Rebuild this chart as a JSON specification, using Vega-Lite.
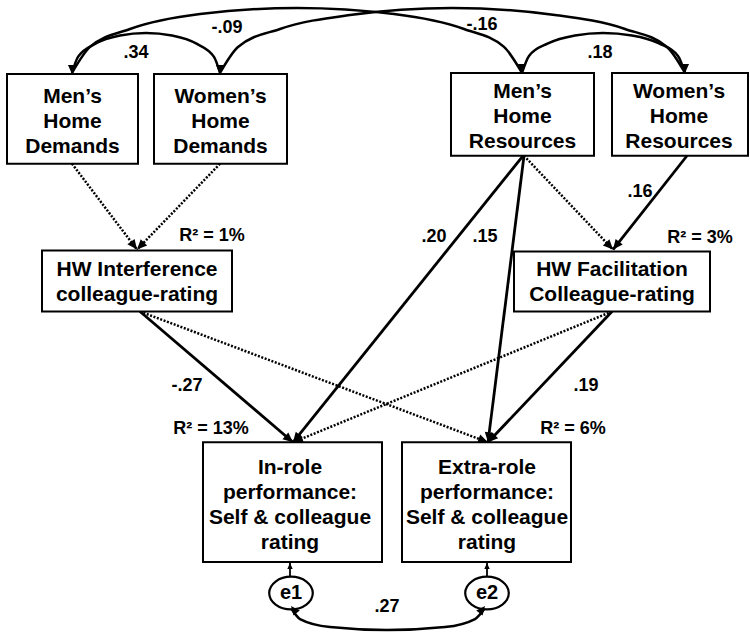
{
  "$schema": "https://vega.github.io/schema/vega-lite/v6.json",
  "width": 750,
  "height": 635,
  "padding": 0,
  "autosize": {"type": "fit", "contains": "padding"},
  "background": "white",
  "config": {"view": {"stroke": null}, "text": {"lineBreak": "\n"}},
  "datasets": {
    "boxes": [
      {"node": "MHD", "x1": 7, "x2": 138, "y1": 74, "y2": 164, "label": "Men’s\nHome\nDemands", "tx": 72.5, "ty": 97},
      {"node": "WHD", "x1": 154, "x2": 287, "y1": 74, "y2": 164, "label": "Women’s\nHome\nDemands", "tx": 220.5, "ty": 97},
      {"node": "MHR", "x1": 451, "x2": 594, "y1": 73, "y2": 156, "label": "Men’s\nHome\nResources", "tx": 522.5, "ty": 92},
      {"node": "WHR", "x1": 612, "x2": 748, "y1": 73, "y2": 156, "label": "Women’s\nHome\nResources", "tx": 679, "ty": 92},
      {"node": "HWI", "x1": 42, "x2": 232, "y1": 251, "y2": 312, "label": "HW Interference\ncolleague-rating", "tx": 137, "ty": 270},
      {"node": "HWF", "x1": 514, "x2": 710, "y1": 252, "y2": 312, "label": "HW Facilitation\nColleague-rating", "tx": 612, "ty": 270},
      {"node": "IR", "x1": 203, "x2": 382, "y1": 443, "y2": 563, "label": "In-role\nperformance:\nSelf & colleague\nrating", "tx": 290, "ty": 469},
      {"node": "ER", "x1": 402, "x2": 571, "y1": 443, "y2": 563, "label": "Extra-role\nperformance:\nSelf & colleague\nrating", "tx": 487, "ty": 469}
    ],
    "edges": [
      {"kind": "solid", "x1": 523, "y1": 156, "x2": 293, "y2": 443},
      {"kind": "solid", "x1": 524, "y1": 156, "x2": 488, "y2": 443},
      {"kind": "solid", "x1": 687, "y1": 156, "x2": 613, "y2": 250},
      {"kind": "solid", "x1": 140, "y1": 312, "x2": 293, "y2": 443},
      {"kind": "solid", "x1": 612, "y1": 312, "x2": 488, "y2": 443},
      {"kind": "dotted", "x1": 72, "y1": 164, "x2": 137, "y2": 250},
      {"kind": "dotted", "x1": 220, "y1": 164, "x2": 137, "y2": 250},
      {"kind": "dotted", "x1": 524, "y1": 156, "x2": 613, "y2": 250},
      {"kind": "dotted", "x1": 140, "y1": 312, "x2": 488, "y2": 443},
      {"kind": "dotted", "x1": 612, "y1": 312, "x2": 293, "y2": 443},
      {"kind": "thin", "x1": 290, "y1": 583, "x2": 290, "y2": 564},
      {"kind": "thin", "x1": 487, "y1": 583, "x2": 487, "y2": 564}
    ],
    "arcs": [
      {"arc": "A", "i": 0, "x": 72, "y": 73}, {"arc": "A", "i": 1, "x": 90, "y": 47}, {"arc": "A", "i": 2, "x": 130, "y": 29}, {"arc": "A", "i": 3, "x": 200, "y": 14}, {"arc": "A", "i": 4, "x": 297, "y": 8}, {"arc": "A", "i": 5, "x": 394, "y": 14}, {"arc": "A", "i": 6, "x": 464, "y": 29}, {"arc": "A", "i": 7, "x": 504, "y": 47}, {"arc": "A", "i": 8, "x": 522, "y": 73},
      {"arc": "B", "i": 0, "x": 220, "y": 73}, {"arc": "B", "i": 1, "x": 238, "y": 47}, {"arc": "B", "i": 2, "x": 280, "y": 29}, {"arc": "B", "i": 3, "x": 350, "y": 15}, {"arc": "B", "i": 4, "x": 452, "y": 8}, {"arc": "B", "i": 5, "x": 555, "y": 15}, {"arc": "B", "i": 6, "x": 625, "y": 29}, {"arc": "B", "i": 7, "x": 667, "y": 47}, {"arc": "B", "i": 8, "x": 685, "y": 73},
      {"arc": "C", "i": 0, "x": 72, "y": 73}, {"arc": "C", "i": 1, "x": 78, "y": 57}, {"arc": "C", "i": 2, "x": 95, "y": 44}, {"arc": "C", "i": 3, "x": 120, "y": 35.5}, {"arc": "C", "i": 4, "x": 146, "y": 33}, {"arc": "C", "i": 5, "x": 172, "y": 35.5}, {"arc": "C", "i": 6, "x": 197, "y": 44}, {"arc": "C", "i": 7, "x": 214, "y": 57}, {"arc": "C", "i": 8, "x": 220, "y": 73},
      {"arc": "D", "i": 0, "x": 522, "y": 73}, {"arc": "D", "i": 1, "x": 529, "y": 56}, {"arc": "D", "i": 2, "x": 548, "y": 43.5}, {"arc": "D", "i": 3, "x": 575, "y": 35.5}, {"arc": "D", "i": 4, "x": 603, "y": 33}, {"arc": "D", "i": 5, "x": 632, "y": 35.5}, {"arc": "D", "i": 6, "x": 659, "y": 43.5}, {"arc": "D", "i": 7, "x": 678, "y": 56}, {"arc": "D", "i": 8, "x": 685, "y": 73},
      {"arc": "E", "i": 0, "x": 291, "y": 609}, {"arc": "E", "i": 1, "x": 300, "y": 620}, {"arc": "E", "i": 2, "x": 330, "y": 628}, {"arc": "E", "i": 3, "x": 387, "y": 631}, {"arc": "E", "i": 4, "x": 445, "y": 628}, {"arc": "E", "i": 5, "x": 475, "y": 620}, {"arc": "E", "i": 6, "x": 485, "y": 609}
    ],
    "heads": [
      {"x": 72, "y": 74, "fx": 72, "fy": 60},
      {"x": 220, "y": 74, "fx": 220, "fy": 60},
      {"x": 522, "y": 73, "fx": 522, "fy": 59},
      {"x": 685, "y": 73, "fx": 685, "fy": 59},
      {"x": 291, "y": 607, "fx": 299, "fy": 617},
      {"x": 485, "y": 607, "fx": 477, "fy": 617}
    ],
    "errors": [
      {"label": "e1", "x": 291, "y": 594},
      {"label": "e2", "x": 487, "y": 594}
    ],
    "labels": [
      {"text": ".34", "x": 136, "y": 53},
      {"text": "-.09", "x": 227, "y": 28},
      {"text": "-.16", "x": 482, "y": 25},
      {"text": ".18", "x": 600, "y": 53},
      {"text": "R² = 1%", "x": 212, "y": 236},
      {"text": "R² = 3%", "x": 700, "y": 238},
      {"text": ".16", "x": 640, "y": 192},
      {"text": ".20", "x": 434, "y": 237},
      {"text": ".15", "x": 485, "y": 237},
      {"text": "-.27", "x": 187, "y": 387},
      {"text": ".19", "x": 586, "y": 387},
      {"text": "R² = 13%", "x": 211, "y": 430},
      {"text": "R² = 6%", "x": 573, "y": 430},
      {"text": ".27", "x": 387, "y": 608}
    ]
  },
  "layer": [
    {
      "data": {"name": "edges"},
      "transform": [{"filter": "datum.kind === 'solid'"}],
      "mark": {"type": "rule", "color": "black", "strokeWidth": 2.8},
      "encoding": {
        "x": {"field": "x1", "type": "quantitative", "scale": {"domain": [0, 750], "nice": false, "zero": false}, "axis": null},
        "y": {"field": "y1", "type": "quantitative", "scale": {"domain": [0, 635], "nice": false, "zero": false, "reverse": true}, "axis": null},
        "x2": {"field": "x2"},
        "y2": {"field": "y2"}
      }
    },
    {
      "data": {"name": "edges"},
      "transform": [{"filter": "datum.kind === 'dotted'"}],
      "mark": {"type": "rule", "color": "black", "strokeWidth": 2.5, "strokeDash": [2, 1.6]},
      "encoding": {
        "x": {"field": "x1", "type": "quantitative", "scale": {"domain": [0, 750], "nice": false, "zero": false}, "axis": null},
        "y": {"field": "y1", "type": "quantitative", "scale": {"domain": [0, 635], "nice": false, "zero": false, "reverse": true}, "axis": null},
        "x2": {"field": "x2"},
        "y2": {"field": "y2"}
      }
    },
    {
      "data": {"name": "edges"},
      "transform": [{"filter": "datum.kind === 'thin'"}],
      "mark": {"type": "rule", "color": "black", "strokeWidth": 1.8},
      "encoding": {
        "x": {"field": "x1", "type": "quantitative", "scale": {"domain": [0, 750], "nice": false, "zero": false}, "axis": null},
        "y": {"field": "y1", "type": "quantitative", "scale": {"domain": [0, 635], "nice": false, "zero": false, "reverse": true}, "axis": null},
        "x2": {"field": "x2"},
        "y2": {"field": "y2"}
      }
    },
    {
      "data": {"name": "arcs"},
      "mark": {"type": "line", "color": "black", "strokeWidth": 2.5, "interpolate": "monotone"},
      "encoding": {
        "x": {"field": "x", "type": "quantitative", "scale": {"domain": [0, 750], "nice": false, "zero": false}, "axis": null},
        "y": {"field": "y", "type": "quantitative", "scale": {"domain": [0, 635], "nice": false, "zero": false, "reverse": true}, "axis": null},
        "detail": {"field": "arc", "type": "nominal"},
        "order": {"field": "i", "type": "quantitative"}
      }
    },
    {
      "data": {"name": "boxes"},
      "mark": {"type": "rect", "fill": "white", "stroke": "black", "strokeWidth": 2},
      "encoding": {
        "x": {"field": "x1", "type": "quantitative", "scale": {"domain": [0, 750], "nice": false, "zero": false}, "axis": null},
        "y": {"field": "y1", "type": "quantitative", "scale": {"domain": [0, 635], "nice": false, "zero": false, "reverse": true}, "axis": null},
        "x2": {"field": "x2"},
        "y2": {"field": "y2"}
      }
    },
    {
      "data": {"name": "boxes"},
      "mark": {"type": "text", "font": "Liberation Sans", "fontWeight": "bold", "fontSize": 21, "lineHeight": 25, "align": "center", "baseline": "middle", "color": "black"},
      "encoding": {
        "x": {"field": "tx", "type": "quantitative", "scale": {"domain": [0, 750], "nice": false, "zero": false}, "axis": null},
        "y": {"field": "ty", "type": "quantitative", "scale": {"domain": [0, 635], "nice": false, "zero": false, "reverse": true}, "axis": null},
        "text": {"field": "label", "type": "nominal"}
      }
    },
    {
      "data": {"name": "errors"},
      "mark": {"type": "point", "shape": "M-1,0C-1,-0.41,-0.55,-0.75,0,-0.75C0.55,-0.75,1,-0.41,1,0C1,0.41,0.55,0.75,0,0.75C-0.55,0.75,-1,0.41,-1,0Z", "size": 1900, "filled": false, "fill": "white", "fillOpacity": 1, "stroke": "black", "strokeWidth": 2.2, "opacity": 1},
      "encoding": {
        "x": {"field": "x", "type": "quantitative", "scale": {"domain": [0, 750], "nice": false, "zero": false}, "axis": null},
        "y": {"field": "y", "type": "quantitative", "scale": {"domain": [0, 635], "nice": false, "zero": false, "reverse": true}, "axis": null}
      }
    },
    {
      "data": {"name": "errors"},
      "mark": {"type": "text", "font": "Liberation Sans", "fontWeight": "bold", "fontSize": 20, "align": "center", "baseline": "middle", "color": "black"},
      "encoding": {
        "x": {"field": "x", "type": "quantitative", "scale": {"domain": [0, 750], "nice": false, "zero": false}, "axis": null},
        "y": {"field": "y", "type": "quantitative", "scale": {"domain": [0, 635], "nice": false, "zero": false, "reverse": true}, "axis": null},
        "text": {"field": "label", "type": "nominal"}
      }
    },
    {
      "data": {"name": "labels"},
      "mark": {"type": "text", "font": "Liberation Sans", "fontWeight": "bold", "fontSize": 18, "align": "center", "baseline": "middle", "color": "black"},
      "encoding": {
        "x": {"field": "x", "type": "quantitative", "scale": {"domain": [0, 750], "nice": false, "zero": false}, "axis": null},
        "y": {"field": "y", "type": "quantitative", "scale": {"domain": [0, 635], "nice": false, "zero": false, "reverse": true}, "axis": null},
        "text": {"field": "text", "type": "nominal"}
      }
    },
    {
      "data": {"name": "edges"},
      "transform": [
        {"filter": "datum.kind !== 'thin'"},
        {"calculate": "atan2(datum.x2 - datum.x1, datum.y1 - datum.y2) * 180 / PI", "as": "ang"}
      ],
      "mark": {"type": "point", "shape": "M0,0L-0.45,1L0.45,1Z", "size": 400, "filled": true, "color": "black", "opacity": 1, "strokeWidth": 0},
      "encoding": {
        "x": {"field": "x2", "type": "quantitative", "scale": {"domain": [0, 750], "nice": false, "zero": false}, "axis": null},
        "y": {"field": "y2", "type": "quantitative", "scale": {"domain": [0, 635], "nice": false, "zero": false, "reverse": true}, "axis": null},
        "angle": {"field": "ang", "type": "quantitative", "scale": null}
      }
    },
    {
      "data": {"name": "edges"},
      "transform": [
        {"filter": "datum.kind === 'thin'"},
        {"calculate": "atan2(datum.x2 - datum.x1, datum.y1 - datum.y2) * 180 / PI", "as": "ang"}
      ],
      "mark": {"type": "point", "shape": "M0,0L-0.45,1L0.45,1Z", "size": 144, "filled": true, "color": "black", "opacity": 1, "strokeWidth": 0},
      "encoding": {
        "x": {"field": "x2", "type": "quantitative", "scale": {"domain": [0, 750], "nice": false, "zero": false}, "axis": null},
        "y": {"field": "y2", "type": "quantitative", "scale": {"domain": [0, 635], "nice": false, "zero": false, "reverse": true}, "axis": null},
        "angle": {"field": "ang", "type": "quantitative", "scale": null}
      }
    },
    {
      "data": {"name": "heads"},
      "transform": [
        {"calculate": "atan2(datum.x - datum.fx, datum.fy - datum.y) * 180 / PI", "as": "ang"}
      ],
      "mark": {"type": "point", "shape": "M0,0L-0.45,1L0.45,1Z", "size": 324, "filled": true, "color": "black", "opacity": 1, "strokeWidth": 0},
      "encoding": {
        "x": {"field": "x", "type": "quantitative", "scale": {"domain": [0, 750], "nice": false, "zero": false}, "axis": null},
        "y": {"field": "y", "type": "quantitative", "scale": {"domain": [0, 635], "nice": false, "zero": false, "reverse": true}, "axis": null},
        "angle": {"field": "ang", "type": "quantitative", "scale": null}
      }
    }
  ]
}
